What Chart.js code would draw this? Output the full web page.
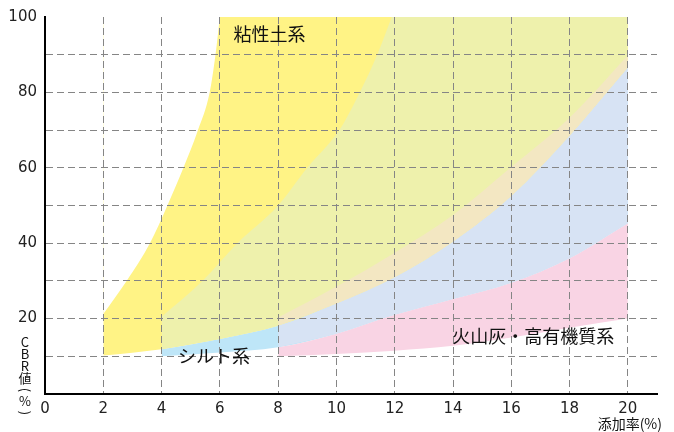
<!DOCTYPE html>
<html>
<head>
<meta charset="utf-8">
<script src="https://cdn.jsdelivr.net/npm/chart.js@4/dist/chart.umd.min.js"></script>
<style>
  html, body { margin: 0; padding: 0; background: #fff; }
  #wrap { width: 674px; height: 432px; }
</style>
</head>
<body>
<div id="wrap"><canvas id="chart"></canvas></div>
<script>
// 粘性土系 (clay) band
var clayLowX = [2, 4, 6, 8, 10, 12, 14, 16, 18, 20];
var clayLowY = [10.2, 11.9, 14.6, 18.1, 24, 31, 40.4, 52.5, 68.5, 86.6];
var clayUpX = [2, 2.8, 3.6, 4.2, 4.75, 5.25, 5.65, 5.85, 6];
var clayUpY = [21.2, 30, 40, 50, 60, 70, 80, 90, 100];

// シルト系 (silt) band
var siltLowX = [4, 6, 8, 10, 12, 14, 16, 18, 20];
var siltLowY = [10, 11, 12.4, 16, 21, 25.2, 29.5, 36, 45.3];
var siltUpX = [4, 5.4, 6.6, 8, 9, 10.1, 10.8, 11.4, 11.9];
var siltUpY = [20.5, 30, 40, 50, 60, 70, 80, 90, 100];

// 火山灰・高有機質系 (volcanic ash / organic) band
var ashLowX = [8, 10, 12, 14, 16, 18, 20];
var ashLowY = [10, 10.6, 11.5, 12.8, 15, 17.6, 20];
var ashUpX = [8, 10, 12, 14, 16, 18, 20];
var ashUpY = [20.3, 28.5, 37.5, 47.5, 60.2, 73.3, 89.8];

var xTicks = [0, 2, 4, 6, 8, 10, 12, 14, 16, 18, 20];
var yTickLabels = [20, 40, 60, 80, 100];

var regionNames = ['粘性土系', 'シルト系', '火山灰・高有機質系'];

// colours of the bands and of their overlaps
var cYellow = '#fff385';
var cGreen = '#eef1ac';
var cBlue = '#bee6f8';
var cPaleBlue = '#d7e3f4';
var cCream = '#f3e7c2';
var cPink = '#f9d4e4';

function pts(xs, ys, fromX) {
    var out = [];
    for (var i = 0; i < xs.length; i++) {
        if (fromX === undefined || xs[i] >= fromX) out.push({ x: xs[i], y: ys[i] });
    }
    return out;
}

function band(data, fill, color) {
    return {
        data: data,
        fill: fill,
        backgroundColor: color,
        borderColor: 'transparent',
        borderWidth: 0,
        pointRadius: 0,
        cubicInterpolationMode: 'monotone'
    };
}

// painter's order, back to front
var datasets = [
    band(pts(clayLowX, clayLowY), 'end', cYellow),        // 0 clay lower
    band(pts(siltLowX, siltLowY), 0, cBlue),              // 1 silt lower
    band(pts(clayLowX, clayLowY, 4), 'end', cGreen),      // 2 clay ∩ silt
    band(pts(siltUpX, siltUpY), 'end', cYellow),          // 3 silt upper
    band(pts(clayUpX, clayUpY), 'end', '#ffffff'),        // 4 clay upper
    band(pts(ashLowX, ashLowY), 1, cPink),                // 5 ash lower
    band(pts(siltLowX, siltLowY, 8), 0, cPaleBlue),       // 6 ash ∩ silt
    band(pts(clayLowX, clayLowY, 8), 8, cCream),          // 7 ash ∩ silt ∩ clay
    band(pts(ashUpX, ashUpY), false, 'transparent')       // 8 ash upper
];
datasets.forEach(function (d, i) { d.order = datasets.length - i; });

var labelsPlugin = {
    id: 'labels',
    afterDraw: function (chart) {
        var ctx = chart.ctx;
        var xs = chart.scales.x, ys = chart.scales.y;
        var spots = [[7.7, 95.5], [5.8, 10], [16.75, 15.4]];
        ctx.save();
        ctx.fillStyle = '#111';
        ctx.textAlign = 'center';
        ctx.textBaseline = 'middle';
        ctx.font = '18px "Noto Sans CJK JP"';
        for (var i = 0; i < regionNames.length; i++) {
            ctx.fillText(regionNames[i], xs.getPixelForValue(spots[i][0]), ys.getPixelForValue(spots[i][1]));
        }
        // y axis title, stacked vertically
        ctx.font = '13px "Noto Sans CJK JP"';
        var chars = ['C', 'B', 'R', '値'];
        var cy = [342, 354, 366, 378];
        for (var j = 0; j < chars.length; j++) {
            ctx.fillText(chars[j], 25, cy[j]);
        }
        ctx.fillText('%', 25, 401);
        // vertical parentheses
        [['(', 390], [')', 413]].forEach(function (p) {
            ctx.save();
            ctx.translate(25, p[1]);
            ctx.rotate(Math.PI / 2);
            ctx.fillText(p[0], 0, 0);
            ctx.restore();
        });
        // x axis title
        ctx.textAlign = 'right';
        ctx.font = '14px "Noto Sans CJK JP"';
        ctx.fillText('添加率(%)', 662, 424);
        ctx.restore();
    }
};

new Chart(document.getElementById('chart'), {
    type: 'line',
    data: { datasets: datasets },
    options: {
        responsive: true,
        maintainAspectRatio: false,
        animation: false,
        layout: { padding: { top: 14, right: 17, left: 0, bottom: 0 } },
        plugins: { legend: { display: false }, tooltip: { enabled: false } },
        scales: {
            x: {
                type: 'linear',
                min: 0,
                max: 21,
                afterFit: function (s) { s.height = 38; },
                afterBuildTicks: function (s) {
                    s.ticks = xTicks.map(function (v) { return { value: v }; });
                },
                ticks: {
                    padding: 6,
                    color: '#222',
                    font: { family: 'DejaVu Sans', size: 15 }
                },
                grid: {
                    z: 1,
                    drawTicks: false,
                    lineWidth: 1,
                    color: function (c) { return c.tick && c.tick.value === 0 ? 'transparent' : '#858585'; }
                },
                border: { display: true, color: '#000', width: 2, dash: [7, 4], z: 2 }
            },
            y: {
                min: 0,
                max: 100,
                afterFit: function (s) { s.width = 45; },
                ticks: {
                    stepSize: 10,
                    padding: 8,
                    color: '#222',
                    font: { family: 'DejaVu Sans', size: 15 },
                    callback: function (v) { return yTickLabels.indexOf(v) >= 0 ? String(v) : ''; }
                },
                grid: {
                    z: 1,
                    drawTicks: false,
                    lineWidth: 1,
                    color: function (c) {
                        var v = c.tick ? c.tick.value : 0;
                        return (v === 0 || v === 100) ? 'transparent' : '#858585';
                    }
                },
                border: { display: true, color: '#000', width: 2, dash: [7, 4], z: 2 }
            }
        }
    },
    plugins: [labelsPlugin]
});
</script>
</body>
</html>
